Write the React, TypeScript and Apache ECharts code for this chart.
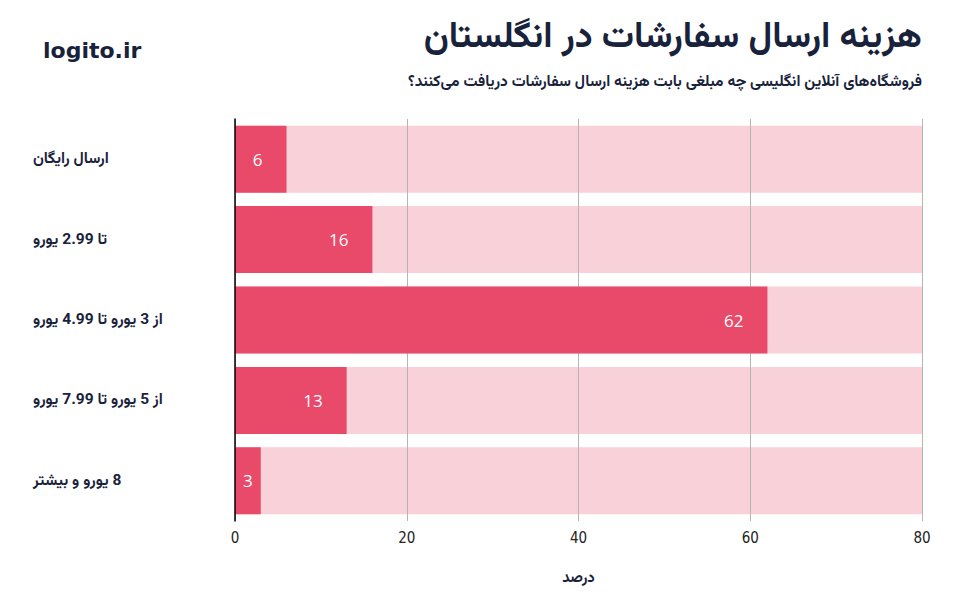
import React, { useEffect, useRef } from "react";
import * as echarts from "echarts";

const categories = [
  "ارسال رایگان",
  "تا 2.99 یورو",
  "از 3 یورو تا 4.99 یورو",
  "از 5 یورو تا 7.99 یورو",
  "8 یورو و بیشتر",
];
const values = [6, 16, 62, 13, 3];
const axisMax = 80;
const axisInterval = 20;
const titleText = "هزینه ارسال سفارشات در انگلستان";
const subtitleText =
  "فروشگاه‌های آنلاین انگلیسی چه مبلغی بابت هزینه ارسال سفارشات دریافت می‌کنند؟";
const axisName = "درصد";
const logoText = "logito.ir";

const ARABIC_FONT = "Vazirmatn, 'Noto Sans Arabic', 'DejaVu Sans', sans-serif";
const NAVY = "#18223a";
const RED = "#e94a6a";
const PINK = "#f9d1d9";

const rtl = (s: string) => "\u202B" + s + "\u202C";

export default function App() {
  const ref = useRef<HTMLDivElement>(null);
  useEffect(() => {
    if (!ref.current) return;
    const chart = echarts.init(ref.current, null, { renderer: "svg" });
    chart.setOption({
      animation: false,
      backgroundColor: "#ffffff",
      graphic: [
        {
          type: "text",
          right: 42,
          top: 20,
          style: {
            text: titleText,
            font: `bold 36px ${ARABIC_FONT}`,
            fill: NAVY,
            textAlign: "right",
          },
        },
        {
          type: "text",
          right: 42,
          top: 74,
          style: {
            text: rtl(subtitleText),
            font: `bold 15.5px ${ARABIC_FONT}`,
            fill: NAVY,
            textAlign: "right",
          },
        },
        {
          type: "text",
          left: 43,
          top: 39,
          style: {
            text: logoText,
            font: "bold 22px 'DejaVu Sans', sans-serif",
            fill: NAVY,
          },
        },
      ],
      grid: { left: 235, right: 42, top: 119, bottom: 75 },
      xAxis: {
        type: "value",
        min: 0,
        max: axisMax,
        interval: axisInterval,
        z: 3,
        axisLine: { show: false },
        axisTick: { show: false },
        splitLine: { show: true, lineStyle: { color: "#b5b5b5", width: 1 } },
        axisLabel: {
          margin: 9,
          fontSize: 15,
          color: "#222",
          fontFamily: "'Liberation Sans Narrow', 'DejaVu Sans Condensed', sans-serif",
        },
        name: axisName,
        nameLocation: "middle",
        nameGap: 50,
        nameTextStyle: {
          fontSize: 15,
          fontWeight: "bold",
          color: NAVY,
          fontFamily: ARABIC_FONT,
        },
      },
      yAxis: {
        type: "category",
        data: categories,
        inverse: true,
        z: 5,
        axisLine: { show: true, lineStyle: { color: "#000", width: 1.5 } },
        axisTick: { show: false },
        axisLabel: {
          margin: 202,
          align: "left",
          fontSize: 15.5,
          fontWeight: "bold",
          color: NAVY,
          fontFamily: ARABIC_FONT,
          formatter: (v: string) => rtl(v),
        },
      },
      series: [
        {
          type: "bar",
          z: 2,
          barWidth: 67,
          barGap: "-100%",
          silent: true,
          itemStyle: { color: PINK },
          data: categories.map(() => axisMax),
        },
        {
          type: "bar",
          z: 4,
          barWidth: 67,
          barGap: "-100%",
          itemStyle: { color: RED },
          label: {
            show: true,
            position: "insideRight",
            distance: 24,
            color: "#fff",
            fontSize: 17,
            fontFamily: "'Open Sans', sans-serif",
          },
          data: values.map((v) =>
            v < 5 ? { value: v, label: { position: "inside" } } : v
          ),
        },
      ],
    });
    return () => chart.dispose();
  }, []);
  return <div ref={ref} style={{ width: 964, height: 596, position: "absolute", left: 0, top: 0 }} />;
}
